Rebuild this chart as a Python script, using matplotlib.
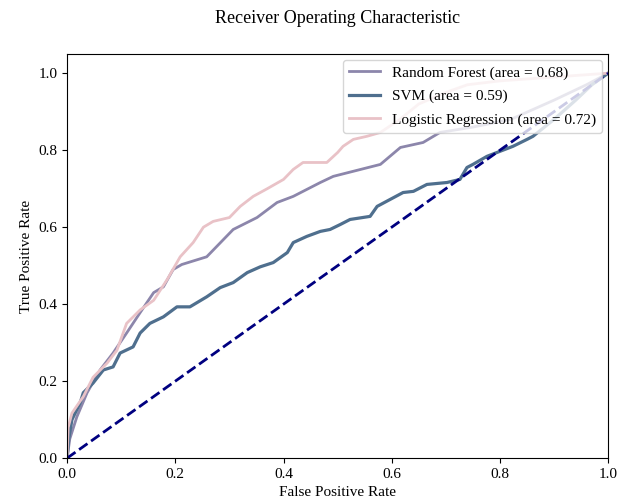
import numpy as np
import matplotlib
matplotlib.use('agg')
import matplotlib.pyplot as plt

plt.rcParams['font.family'] = ['Liberation Serif', 'DejaVu Serif']

# ROC points
rf_fpr = [0, 0.005, 0.018, 0.037, 0.061, 0.085, 0.11, 0.135, 0.16, 0.178, 0.196, 0.212,
          0.258, 0.307, 0.351, 0.388, 0.418, 0.468, 0.492, 0.579, 0.616, 0.658, 0.689,
          0.75, 0.82, 0.9, 0.96, 1.0]
rf_tpr = [0, 0.05, 0.107, 0.17, 0.229, 0.273, 0.325, 0.378, 0.43, 0.445, 0.49, 0.503,
          0.523, 0.594, 0.625, 0.664, 0.68, 0.716, 0.732, 0.763, 0.807, 0.82, 0.846,
          0.86, 0.88, 0.93, 0.97, 1.0]

svm_fpr = [0, 0.003, 0.009, 0.024, 0.03, 0.048, 0.067, 0.085, 0.098, 0.122, 0.135, 0.153,
           0.178, 0.203, 0.227, 0.258, 0.283, 0.307, 0.333, 0.357, 0.381, 0.407, 0.418,
           0.443, 0.468, 0.486, 0.505, 0.523, 0.56, 0.573, 0.597, 0.621, 0.64, 0.665,
           0.702, 0.726, 0.739, 0.75, 0.776, 0.80, 0.824, 0.85, 0.861, 0.9, 0.94, 0.97, 1.0]
svm_tpr = [0, 0.05, 0.1, 0.143, 0.17, 0.195, 0.229, 0.237, 0.273, 0.289, 0.325, 0.35,
           0.367, 0.393, 0.393, 0.419, 0.443, 0.456, 0.482, 0.497, 0.508, 0.534, 0.56,
           0.576, 0.589, 0.594, 0.607, 0.62, 0.628, 0.654, 0.672, 0.69, 0.693, 0.711,
           0.716, 0.724, 0.755, 0.763, 0.784, 0.797, 0.81, 0.828, 0.836, 0.88, 0.93, 0.97, 1.0]

lr_fpr = [0, 0.002, 0.009, 0.03, 0.048, 0.074, 0.092, 0.11, 0.135, 0.16, 0.185, 0.209,
          0.233, 0.252, 0.27, 0.30, 0.32, 0.344, 0.37, 0.40, 0.418, 0.436, 0.468, 0.48,
          0.5, 0.51, 0.529, 0.554, 0.579, 0.615, 0.65, 0.7, 0.74, 0.8, 0.9, 1.0]
lr_tpr = [0, 0.08, 0.117, 0.16, 0.21, 0.247, 0.28, 0.35, 0.385, 0.41, 0.464, 0.523,
          0.56, 0.60, 0.615, 0.625, 0.654, 0.68, 0.70, 0.724, 0.75, 0.768, 0.768, 0.768,
          0.794, 0.81, 0.828, 0.836, 0.846, 0.88, 0.92, 0.95, 0.97, 0.98, 0.99, 1.0]

rf_auc = 0.68
svm_auc = 0.59
lr_auc = 0.72

fig = plt.figure(figsize=(6.27, 5.04), dpi=100)
ax = fig.add_axes([0.107, 0.091, 0.863, 0.802])

ax.plot(rf_fpr, rf_tpr, color='#8c86ab', lw=2, label='Random Forest (area = %0.2f)' % rf_auc)
ax.plot(svm_fpr, svm_tpr, color='#4f6f8e', lw=2.3, label='SVM (area = %0.2f)' % svm_auc)
ax.plot(lr_fpr, lr_tpr, color='#e9c2c7', lw=2, label='Logistic Regression (area = %0.2f)' % lr_auc)
ax.plot([0, 1], [0, 1], color='navy', lw=2, linestyle='--')

ax.set_xlim([0.0, 1.0])
ax.set_ylim([0.0, 1.05])
ax.set_xlabel('False Positive Rate', fontsize=11)
ax.set_ylabel('True Positive Rate', fontsize=11)
ax.tick_params(labelsize=11)
fig.suptitle('Receiver Operating Characteristic', fontsize=13, x=0.538, y=0.964, va='center')
ax.legend(loc='upper right', fontsize=11, labelspacing=0.62, borderaxespad=0.4)

fig.savefig('out.png', dpi=100)
